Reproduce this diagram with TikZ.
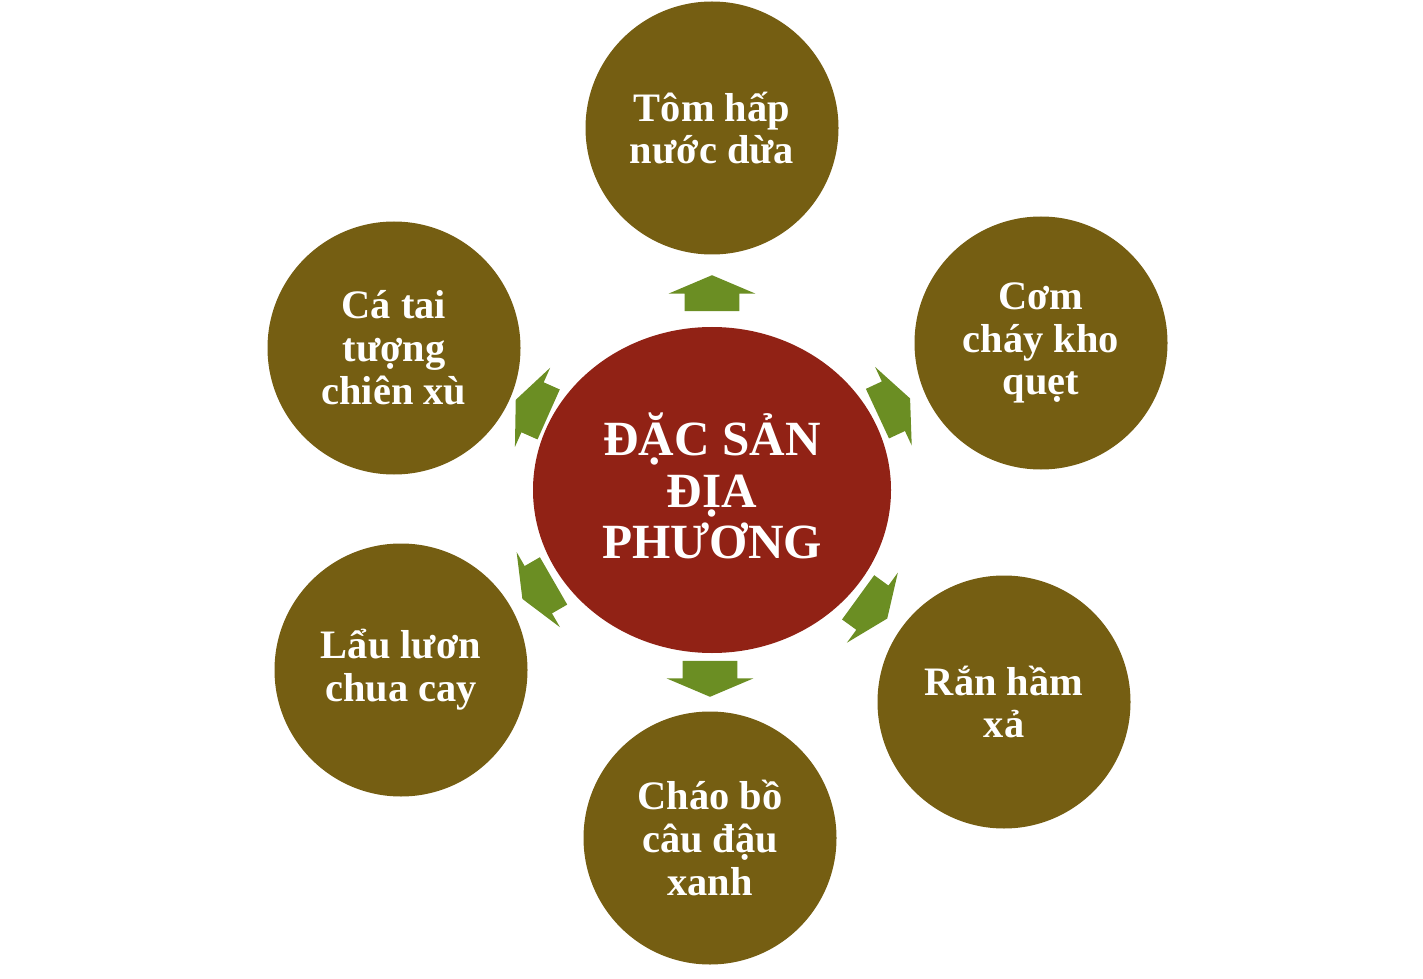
\documentclass[tikz,border=0pt]{standalone}
\usepackage{fontspec}
\setmainfont{Liberation Serif}
\usetikzlibrary{shapes.geometric,shapes.arrows}

\definecolor{dishcol}{RGB}{117,94,18}
\definecolor{hubcol}{RGB}{145,34,21}
\definecolor{arrowcol}{RGB}{107,142,35}

\begin{document}
\begin{tikzpicture}[
	dish/.style={circle,fill=dishcol,minimum size=5.06cm,inner sep=0pt,text=white,align=center,font=\bfseries\fontsize{23}{24.4}\selectfont},
	hub/.style={ellipse,fill=hubcol,minimum width=7.16cm,minimum height=6.52cm,inner sep=0pt},
	hubtext/.style={text=white,align=center,font=\bfseries\fontsize{28}{29.4}\selectfont},
	blockarrow/.style={single arrow,fill=arrowcol,single arrow head extend=0.32cm,single arrow tip angle=134,inner xsep=0pt,inner ysep=0.54cm,minimum height=0.72cm,outer sep=0pt}]
	
	\useasboundingbox (0,0) rectangle (28.46,-19.58);
	
	% centre
	\node[hub] (hub) at (14.24,-9.80) {};
	\node[hubtext] (hubname) at ([yshift=0.08cm]hub.center) {ĐẶC SẢN\\ĐỊA\\PHƯƠNG};
	
	% dishes round the centre
	\node[dish] (tom) at (14.24,-2.56) {Tôm hấp\\nước dừa};
	\node[dish] (com) at (20.82,-6.86) {Cơm\\cháy kho\\quẹt};
	\node[dish] (ran) at (20.08,-14.04) {Rắn hầm\\xả};
	\node[dish] (chao) at (14.20,-16.76) {Cháo bồ\\câu đậu\\xanh};
	\node[dish] (lau) at (8.02,-13.40) {Lẩu lươn\\chua cay};
	\node[dish] (ca) at (7.88,-6.96) {Cá tai\\tượng\\chiên xù};
	
	% arrows
	\node[blockarrow,rotate=90] (totom) at (14.24,-5.98) {};
	\node[blockarrow,rotate=25] (tocom) at (17.77,-8.17) {};
	\node[blockarrow,rotate=-36] (toran) at (17.36,-12.09) {};
	\node[blockarrow,rotate=-90] (tochao) at (14.20,-13.46) {};
	\node[blockarrow,rotate=210] (tolau) at (10.86,-11.74) {};
	\node[blockarrow,rotate=156] (toca) at (10.75,-8.19) {};
	
\end{tikzpicture}
\end{document}
